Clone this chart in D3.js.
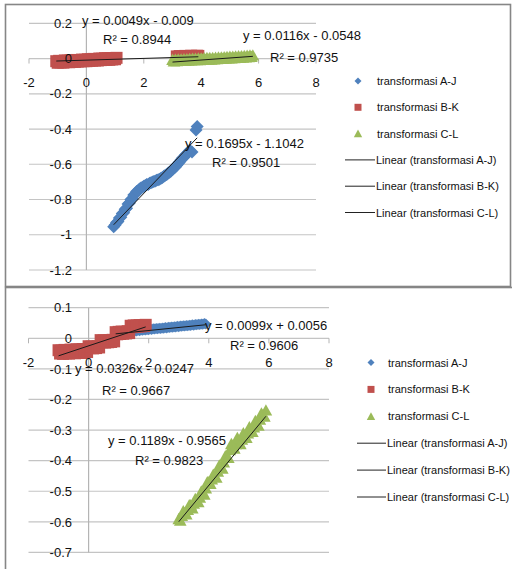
<!DOCTYPE html>
<html>
<head>
<meta charset="utf-8">
<script src="https://cdnjs.cloudflare.com/ajax/libs/d3/7.8.5/d3.min.js"></script>
<style>
    body { margin: 0; background: #fff; }
    svg { display: block; }
    text { font-family: "Liberation Sans", Arial, sans-serif; fill: #111; }
</style>
</head>
<body>
<svg width="512" height="569"></svg>
<script>
// ---- data ----
var xTicks = [-2, 0, 2, 4, 6, 8];
var topYTicks = [0.2, 0, -0.2, -0.4, -0.6, -0.8, -1, -1.2];
var botYTicks = [0.1, 0, -0.1, -0.2, -0.3, -0.4, -0.5, -0.6, -0.7];

var seriesNames = ["transformasi A-J", "transformasi B-K", "transformasi C-L"];
var trendNames = ["Linear (transformasi A-J)", "Linear (transformasi B-K)", "Linear (transformasi C-L)"];

// top chart
var topAJx = [0.95, 1.0, 1.05, 1.1, 1.15, 1.2, 1.25, 1.3, 1.35, 1.4, 1.45, 1.5, 1.55, 1.6, 1.65, 1.7, 1.75, 1.8, 1.85, 1.9,
    1.95, 2.0, 2.05, 2.1, 2.15, 2.2, 2.25, 2.3, 2.35, 2.4, 2.45, 2.5, 2.55, 2.6, 2.65, 2.7, 2.75, 2.8, 2.85, 2.9,
    2.95, 3.0, 3.05, 3.1, 3.15, 3.2, 3.25, 3.3, 3.35, 3.4, 3.45, 3.5, 3.55, 3.6, 3.68, 3.82, 3.86];
var topAJy = [-0.955, -0.945, -0.93, -0.925, -0.905, -0.9, -0.88, -0.875, -0.855, -0.85, -0.825, -0.82, -0.8, -0.795, -0.775, -0.77, -0.755, -0.75, -0.74, -0.735,
    -0.73, -0.725, -0.72, -0.715, -0.715, -0.708, -0.705, -0.7, -0.698, -0.695, -0.69, -0.688, -0.685, -0.68, -0.675, -0.668, -0.662, -0.658, -0.65, -0.645,
    -0.638, -0.63, -0.62, -0.615, -0.605, -0.595, -0.585, -0.575, -0.565, -0.56, -0.548, -0.54, -0.53, -0.52, -0.53, -0.405, -0.385];

var topBKx = [-1.05, -0.95, -0.85, -0.75, -0.65, -0.55, -0.45, -0.35, -0.25, -0.15, -0.05, 0.05, 0.15, 0.25, 0.35, 0.45, 0.55, 0.65, 0.75, 0.85, 0.95, 1.05,
    -1.0, -0.9, -0.8, -0.7, -0.6, -0.5, -0.4, -0.3, -0.2, -0.1, 0.0, 0.1, 0.2, 0.3, 0.4, 0.5, 0.6, 0.7, 0.8, 0.9, 1.0,
    3.15, 3.25, 3.35, 3.45, 3.55, 3.65, 3.75, 3.85, 3.9];
var topBKy = [-0.015, -0.013, -0.014, -0.011, -0.012, -0.01, -0.011, -0.008, -0.009, -0.006, -0.007, -0.004, -0.005, -0.002, -0.003, 0.0, -0.001, 0.002, 0.001, 0.003, 0.002, 0.004,
    -0.024, -0.022, -0.023, -0.02, -0.021, -0.019, -0.019, -0.017, -0.016, -0.015, -0.015, -0.013, -0.012, -0.011, -0.011, -0.009, -0.008, -0.007, -0.007, -0.005, -0.004,
    0.012, 0.014, 0.013, 0.015, 0.013, 0.016, 0.014, 0.016, 0.015];

var topCLx = [3.0, 3.1, 3.2, 3.3, 3.4, 3.5, 3.6, 3.7, 3.8, 3.9, 4.0, 4.1, 4.2, 4.3, 4.4, 4.5, 4.6, 4.7, 4.8, 4.9, 5.0, 5.1, 5.2, 5.3, 5.4, 5.5, 5.6, 5.7, 5.8,
    3.05, 3.15, 3.25, 3.35, 3.45, 3.55, 3.65, 3.75, 3.85, 3.95, 4.05, 4.15, 4.25, 4.35, 4.45, 4.55, 4.65, 4.75, 4.85, 4.95, 5.05, 5.15, 5.25, 5.35, 5.45, 5.55, 5.65, 5.75];
var topCLy = [-0.006, -0.005, -0.004, -0.004, -0.003, -0.002, -0.001, 0.0, 0.0, 0.001, 0.002, 0.003, 0.004, 0.004, 0.005, 0.006, 0.007, 0.008, 0.009, 0.01, 0.011, 0.012, 0.013, 0.014, 0.015, 0.016, 0.017, 0.018, 0.019,
    -0.014, -0.013, -0.012, -0.012, -0.011, -0.01, -0.009, -0.008, -0.008, -0.007, -0.006, -0.005, -0.004, -0.004, -0.003, -0.002, -0.001, 0.0, 0.001, 0.002, 0.003, 0.004, 0.005, 0.006, 0.007, 0.008, 0.009, 0.011];

var topSlope = [0.1695, 0.0049, 0.0116];
var topIntercept = [-1.1042, -0.009, -0.0548];
var topR2 = ["0.9501", "0.8944", "0.9735"];

// bottom chart
var botAJx = [0.9, 0.95, 1.0, 1.05, 1.1, 1.15, 1.2, 1.25, 1.3, 1.35, 1.4, 1.45, 1.5, 1.55, 1.6, 1.65, 1.7, 1.75, 1.8, 1.85,
    1.9, 1.95, 2.0, 2.05, 2.1, 2.15, 2.2, 2.25, 2.3, 2.35, 2.4, 2.45, 2.5, 2.55, 2.6, 2.65, 2.7, 2.75, 2.8, 2.85,
    2.9, 2.95, 3.0, 3.05, 3.1, 3.15, 3.2, 3.25, 3.3, 3.35, 3.4, 3.45, 3.5, 3.55, 3.6, 3.65, 3.7, 3.75, 3.8, 3.85, 3.9];
var botAJy = [0.017, 0.019, 0.018, 0.02, 0.019, 0.021, 0.02, 0.022, 0.021, 0.023, 0.022, 0.024, 0.023, 0.025, 0.024, 0.026, 0.025, 0.027, 0.026, 0.028,
    0.027, 0.029, 0.028, 0.03, 0.029, 0.031, 0.03, 0.032, 0.031, 0.033, 0.032, 0.034, 0.033, 0.035, 0.034, 0.036, 0.035, 0.037, 0.036, 0.038,
    0.037, 0.039, 0.038, 0.04, 0.039, 0.041, 0.04, 0.042, 0.041, 0.043, 0.042, 0.044, 0.043, 0.045, 0.044, 0.046, 0.045, 0.047, 0.046, 0.048, 0.047];

var botBKx = [-1.0, -0.9, -0.8, -0.7, -0.6, -0.5, -0.4, -0.3, -0.2, -0.1,
    -0.95, -0.85, -0.75, -0.65, -0.55, -0.45, -0.35, -0.25, -0.15, -0.05,
    0.0, 0.05, 0.1, 0.15, 0.2, 0.25, 0.3, 0.35,
    0.4, 0.45, 0.5, 0.55, 0.6, 0.65, 0.7, 0.75, 0.8, 0.85,
    0.9, 0.95, 1.0, 1.05, 1.1, 1.15, 1.2, 1.25, 1.3, 1.35,
    1.4, 1.45, 1.5, 1.55, 1.6, 1.65, 1.7, 1.75, 1.8, 1.85, 1.9];
var botBKy = [-0.039, -0.04, -0.038, -0.039, -0.037, -0.038, -0.036, -0.037, -0.035, -0.036,
    -0.05, -0.051, -0.049, -0.05, -0.048, -0.049, -0.047, -0.048, -0.046, -0.045,
    -0.026, -0.032, -0.027, -0.033, -0.028, -0.032, -0.026, -0.03,
    -0.006, -0.013, -0.007, -0.014, -0.008, -0.013, -0.006, -0.012, -0.005, -0.01,
    0.02, 0.013, 0.021, 0.014, 0.022, 0.015, 0.021, 0.016, 0.023, 0.017,
    0.041, 0.036, 0.042, 0.037, 0.042, 0.038, 0.043, 0.039, 0.043, 0.04, 0.044];

var botCLx = [3.0, 3.1, 3.2, 3.3, 3.4, 3.5, 3.6, 3.7, 3.8, 3.9, 4.0, 4.1, 4.2, 4.3, 4.4, 4.5, 4.6, 4.7, 4.8, 4.9, 5.0, 5.1, 5.2, 5.3, 5.4, 5.5, 5.6, 5.7, 5.8, 5.9,
    3.05, 3.15, 3.25, 3.35, 3.45, 3.55, 3.65, 3.75, 3.85, 3.95, 4.05, 4.15, 4.25, 4.35, 4.45, 4.55, 4.65, 4.75, 4.85, 4.95, 5.05, 5.15, 5.25, 5.35, 5.45, 5.55, 5.65, 5.75, 5.85];
var botCLy = [-0.59, -0.58, -0.57, -0.56, -0.545, -0.54, -0.53, -0.52, -0.505, -0.49, -0.47, -0.46, -0.45, -0.435, -0.42, -0.405, -0.385, -0.365, -0.35, -0.345, -0.34, -0.33, -0.32, -0.31, -0.3, -0.29, -0.28, -0.265, -0.25, -0.235,
    -0.595, -0.565, -0.575, -0.545, -0.555, -0.525, -0.535, -0.5, -0.51, -0.47, -0.475, -0.445, -0.455, -0.415, -0.425, -0.385, -0.39, -0.345, -0.36, -0.325, -0.345, -0.31, -0.325, -0.29, -0.305, -0.27, -0.285, -0.245, -0.255];

var botSlope = [0.0099, 0.0326, 0.1189];
var botIntercept = [0.0056, -0.0247, -0.9565];
var botR2 = ["0.9606", "0.9667", "0.9823"];

// ---- styling ----
var colors = ["#4f81bd", "#c0504d", "#9bbb59"];
var shapes = ["diamond", "square", "triangle"];

var svg = d3.select("svg");

function zip(xs, ys) {
    var out = [];
    for (var i = 0; i < xs.length; i++) out.push({x: xs[i], y: ys[i]});
    return out;
}

function markerPath(type, r) {
    if (type == "diamond") return "M0," + (-r) + "L" + r + ",0L0," + r + "L" + (-r) + ",0Z";
    if (type == "square") return "M" + (-r) + "," + (-r) + "h" + (2 * r) + "v" + (2 * r) + "h" + (-2 * r) + "Z";
    return "M0," + (-r) + "L" + (r * 1.05) + "," + (r * 0.9) + "L" + (-r * 1.05) + "," + (r * 0.9) + "Z";
}

function eqText(m, b) {
    return "y = " + m + "x " + (b < 0 ? "- " : "+ ") + Math.abs(b);
}

function drawChart(cfg) {
    var g = svg.append("g");

    g.append("rect")
        .attr("x", cfg.box[0]).attr("y", cfg.box[1])
        .attr("width", cfg.box[2]).attr("height", cfg.box[3])
        .attr("fill", "#fff")
        .attr("stroke", "#868686")
        .attr("stroke-width", 1.6);

    var x = d3.scaleLinear().domain([-2, 8]).range(cfg.xRange);
    var y = d3.scaleLinear().domain(cfg.yDomain).range(cfg.yRange);

    // gridlines
    g.append("g").selectAll("line")
        .data(cfg.yTicks)
        .enter().append("line")
        .attr("x1", x(-2)).attr("x2", x(8))
        .attr("y1", function(d) { return y(d); })
        .attr("y2", function(d) { return y(d); })
        .attr("stroke", "#c4c4c4")
        .attr("stroke-width", 1.2);

    // vertical axis at x = 0
    g.append("line")
        .attr("x1", x(0)).attr("x2", x(0))
        .attr("y1", y(cfg.yDomain[1])).attr("y2", y(cfg.yDomain[0]))
        .attr("stroke", "#b4b4b4")
        .attr("stroke-width", 1.2);

    // tick marks on x axis
    g.append("g").selectAll("line")
        .data(xTicks)
        .enter().append("line")
        .attr("x1", function(d) { return x(d); })
        .attr("x2", function(d) { return x(d); })
        .attr("y1", y(0)).attr("y2", y(0) + 5)
        .attr("stroke", "#b4b4b4");

    // series
    var all = [cfg.AJ, cfg.BK, cfg.CL];
    all.forEach(function(pts, i) {
        g.append("g").selectAll("path")
            .data(pts)
            .enter().append("path")
            .attr("d", markerPath(shapes[i], cfg.sizes[i]))
            .attr("transform", function(d) { return "translate(" + x(d.x) + "," + y(d.y) + ")"; })
            .attr("fill", colors[i]);
    });

    // trendlines
    all.forEach(function(pts, i) {
        var ext = d3.extent(pts, function(d) { return d.x; });
        g.append("line")
            .attr("x1", x(ext[0])).attr("y1", y(cfg.slope[i] * ext[0] + cfg.intercept[i]))
            .attr("x2", x(ext[1])).attr("y2", y(cfg.slope[i] * ext[1] + cfg.intercept[i]))
            .attr("stroke", "#1a1a1a")
            .attr("stroke-width", 1);
    });

    // tick labels
    g.append("g").selectAll("text")
        .data(cfg.yTicks)
        .enter().append("text")
        .attr("x", 72)
        .attr("y", function(d) { return y(d) + 4.7; })
        .attr("text-anchor", "end")
        .style("font-size", "13px")
        .text(function(d) { return d; });

    g.append("g").selectAll("text")
        .data(xTicks)
        .enter().append("text")
        .attr("x", function(d) { return x(d); })
        .attr("y", y(0) + 28.5)
        .attr("text-anchor", "middle")
        .style("font-size", "13px")
        .text(function(d) { return d; });

    // equation labels
    for (var i = 0; i < 3; i++) {
        g.append("text")
            .attr("x", cfg.eqPos[i][0]).attr("y", cfg.eqPos[i][1])
            .style("font-size", "13px")
            .text(eqText(cfg.slope[i], cfg.intercept[i]));
        g.append("text")
            .attr("x", cfg.r2Pos[i][0]).attr("y", cfg.r2Pos[i][1])
            .style("font-size", "13px")
            .text("R\u00b2 = " + cfg.r2[i]);
    }

    // legend
    var L = cfg.legend;
    var legendSizes = [3.5, 3.5, 4];
    for (var k = 0; k < 3; k++) {
        var ly = L.y0 + k * L.dy;
        g.append("path")
            .attr("d", markerPath(shapes[k], legendSizes[k]))
            .attr("transform", "translate(" + L.mx + "," + ly + ")")
            .attr("fill", colors[k]);
        g.append("text")
            .attr("x", L.tx).attr("y", ly + 4)
            .style("font-size", "11px")
            .text(seriesNames[k]);
    }
    for (var k = 0; k < 3; k++) {
        var ly = L.y0 + (k + 3) * L.dy;
        g.append("line")
            .attr("x1", L.l1).attr("x2", L.l2)
            .attr("y1", ly).attr("y2", ly)
            .attr("stroke", "#222")
            .attr("stroke-width", 1);
        g.append("text")
            .attr("x", L.tx - 1).attr("y", ly + 4)
            .style("font-size", "11px")
            .text(trendNames[k]);
    }
}

drawChart({
    box: [5.5, 4.5, 505, 282],
    xRange: [29, 316],
    yDomain: [-1.2, 0.2],
    yRange: [270, 23.3],
    yTicks: topYTicks,
    AJ: zip(topAJx, topAJy),
    BK: zip(topBKx, topBKy),
    CL: zip(topCLx, topCLy),
    sizes: [6.5, 6, 6],
    slope: topSlope,
    intercept: topIntercept,
    r2: topR2,
    eqPos: [[185, 148], [82, 25], [243, 40]],
    r2Pos: [[212, 167], [103, 44], [270, 62]],
    legend: {mx: 358, tx: 377, l1: 345, l2: 375, y0: 81, dy: 26.3}
});

drawChart({
    box: [5.5, 287.5, 600, 400],
    xRange: [28.5, 329],
    yDomain: [-0.7, 0.1],
    yRange: [552.4, 307.7],
    yTicks: botYTicks,
    AJ: zip(botAJx, botAJy),
    BK: zip(botBKx, botBKy),
    CL: zip(botCLx, botCLy),
    sizes: [5.5, 6, 6],
    slope: botSlope,
    intercept: botIntercept,
    r2: botR2,
    eqPos: [[205, 330], [75, 373], [108, 445]],
    r2Pos: [[230, 350], [102, 395], [135, 465]],
    legend: {mx: 371, tx: 388, l1: 357, l2: 386, y0: 362.5, dy: 26.9}
});
</script>
</body>
</html>
